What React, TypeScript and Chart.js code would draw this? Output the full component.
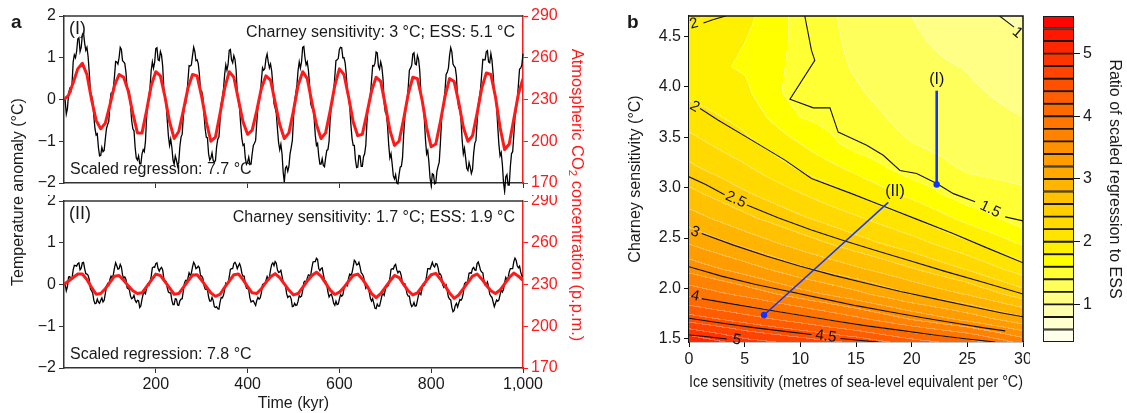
import React, { useEffect, useRef } from 'react';
import { Chart, registerables } from 'chart.js';
Chart.register(...registerables);

const FONT = "'Liberation Sans', Arial, Helvetica, sans-serif";
const RED = '#ff1a1a';
const AXIS = '#333';
const BLUE = '#1133ff';
const FS = 16;

// ---------- Panel a data ----------
const TIME_BLACK = Array.from({ length: 401 }, (_, i) => i * 2.5);
const TIME_RED = Array.from({ length: 101 }, (_, i) => i * 10);
const X_TICKS_A = [200, 400, 600, 800, 1000];
const TEMP_TICKS = [-2, -1, 0, 1, 2];
const CO2_TICKS = [170, 200, 230, 260, 290];

const TEMP_I = [
  0.02, -0.02, -0.35, -0.22, 0.15, 0.26, 0.2, 0.37, 0.9, 1.07,
  1.0, 1.15, 1.45, 1.48, 1.15, 1.25, 1.55, 1.6, 1.35, 1.18,
  1.25, 1.03, 0.65, 0.2, 0.1, -0.03, -0.4, -0.7, -0.85, -0.82,
  -1.15, -1.35, -1.34, -1.15, -1.25, -1.22, -0.95, -0.7, -0.6, -0.53,
  -0.1, 0.15, 0.15, 0.27, 0.55, 0.91, 0.9, 0.85, 1.0, 1.25,
  1.2, 0.93, 0.9, 0.86, 0.65, 0.27, 0.25, 0.17, -0.15, -0.51,
  -0.7, -0.75, -1.15, -1.4, -1.45, -1.35, -1.54, -1.54, -1.3, -1.2,
  -1.25, -1.0, -0.4, -0.06, 0.05, 0.3, 0.7, 0.9, 0.75, 0.89,
  1.22, 1.24, 0.95, 0.93, 1.15, 1.06, 0.8, 0.25, 0.05, -0.1,
  -0.5, -0.88, -1.1, -0.95, -1.15, -1.45, -1.55, -1.35, -1.45, -1.6,
  -1.5, -1.12, -0.9, -0.83, -0.4, -0.13, -0.1, 0.1, 0.45, 0.81,
  0.8, 0.83, 1.05, 1.25, 1.15, 0.93, 0.95, 0.86, 0.6, 0.22,
  0.2, 0.05, -0.35, -0.7, -0.9, -0.92, -1.3, -1.45, -1.4, -1.28,
  -1.46, -1.5, -1.46, -1.13, -0.95, -0.9, -0.5, -0.1, 0.05, 0.25,
  0.6, 0.83, 0.7, 0.84, 1.18, 1.2, 0.95, 0.88, 1.05, 0.96,
  0.7, 0.15, -0.05, -0.2, -0.6, -0.93, -1.1, -1.07, -1.4, -1.55,
  -1.5, -1.38, -1.55, -1.55, -1.3, -1.1, -1.05, -0.98, -0.55, -0.18,
  -0.05, 0.12, 0.45, 0.76, 0.7, 0.74, 0.98, 1.09, 0.9, 0.76,
  0.85, 0.68, 0.35, -0.1, -0.2, -0.33, -0.7, -1.03, -1.2, -1.07,
  -1.3, -1.74, -1.98, -1.64, -1.6, -1.72, -1.6, -1.3, -1.15, -0.98,
  -0.45, -0.03, 0.15, 0.35, 0.7, 0.9, 0.75, 0.9, 1.25, 1.27,
  1.0, 0.83, 0.9, 0.7, 0.35, -0.1, -0.2, -0.2, -0.45, -0.86,
  -1.1, -1.05, -1.35, -1.55, -1.55, -1.42, -1.58, -1.61, -1.4, -1.22,
  -1.2, -1.0, -0.45, -0.13, -0.05, 0.17, 0.55, 0.93, 0.95, 0.98,
  1.2, 1.25, 1.24, 1.0, 1.0, 0.88, 0.6, 0.15, 0.05, -0.16,
  -0.6, -0.93, -1.1, -1.1, -1.45, -1.63, -1.62, -1.34, -1.35, -1.6,
  -1.6, -1.37, -1.3, -1.1, -0.55, -0.18, -0.05, 0.12, 0.45, 0.81,
  0.8, 0.87, 1.14, 1.12, 0.8, 0.73, 0.9, 0.78, 0.5, -0.08,
  -0.3, -0.36, -0.65, -1.1, -1.4, -1.3, -1.55, -1.83, -1.9, -1.8,
  -2.0, -2.02, -1.8, -1.62, -1.6, -1.4, -0.85, -0.4, -0.2, -0.03,
  0.3, 0.7, 0.75, 0.82, 1.09, 1.12, 0.85, 0.83, 1.05, 0.96,
  0.7, 0.15, -0.05, -0.13, -0.45, -0.96, -1.3, -1.22, -1.5, -1.88,
  -2.06, -1.78, -1.8, -2.02, -2.0, -1.72, -1.6, -1.5, -1.05, -0.5,
  -0.2, -0.08, 0.2, 0.6, 0.65, 0.75, 1.05, 1.24, 1.14, 0.85,
  0.8, 0.76, 0.55, 0.0, -0.2, -0.23, -0.5, -0.98, -1.3, -1.17,
  -1.4, -1.65, -1.7, -1.51, -1.62, -1.77, -1.68, -1.29, -1.05, -0.98,
  -0.55, -0.13, 0.05, 0.25, 0.6, 0.96, 0.95, 0.95, 1.14, 1.17,
  0.9, 0.88, 1.1, 0.93, 0.6, 0.15, 0.05, -0.18, -0.65, -1.08,
  -1.35, -1.27, -1.55, -1.98, -2.2, -1.85, -1.8, -2.05, -2.05, -1.6,
  -1.3, -1.25, -0.85, -0.43, -0.25, -0.03, 0.35, 0.73, 0.75, 0.83,
  1.1,
];

const CO2_I = [
  230, 233, 242, 252, 256, 248, 230, 215, 209, 213,
  226, 240, 248, 246, 236, 220, 206, 206, 222, 240,
  250, 247, 232, 214, 202, 207, 222, 238, 248, 247,
  232, 214, 200, 203, 220, 238, 250, 246, 230, 214,
  205, 208, 222, 238, 247, 244, 228, 212, 202, 206,
  222, 240, 250, 245, 228, 212, 202, 206, 222, 240,
  252, 248, 232, 214, 204, 205, 220, 236, 246, 243,
  226, 208, 197, 200, 216, 234, 246, 245, 230, 210,
  196, 198, 214, 232, 245, 243, 228, 210, 200, 204,
  220, 238, 249, 248, 232, 210, 194, 198, 216, 234,
  245,
];

const TEMP_II = [
  0.0, 0.01, -0.15, -0.05, 0.18, 0.19, 0.12, 0.15, 0.35, 0.46,
  0.45, 0.44, 0.5, 0.52, 0.35, 0.39, 0.52, 0.53, 0.38, 0.26,
  0.25, 0.22, 0.12, -0.1, -0.15, -0.2, -0.38, -0.46, -0.45, -0.35,
  -0.42, -0.45, -0.38, -0.32, -0.42, -0.38, -0.22, -0.06, 0.02, -0.02,
  0.12, 0.2, 0.15, 0.24, 0.4, 0.52, 0.45, 0.37, 0.38, 0.48,
  0.42, 0.23, 0.15, 0.18, 0.12, -0.08, -0.1, -0.13, -0.28, -0.34,
  -0.32, -0.26, -0.38, -0.43, -0.38, -0.39, -0.55, -0.51, -0.35, -0.23,
  -0.18, -0.22, -0.08, 0.01, -0.02, 0.05, 0.2, 0.4, 0.42, 0.41,
  0.5, 0.52, 0.38, 0.32, 0.38, 0.41, 0.35, 0.14, 0.1, 0.07,
  -0.08, -0.18, -0.2, -0.2, -0.38, -0.48, -0.48, -0.34, -0.35, -0.49,
  -0.5, -0.39, -0.35, -0.34, -0.15, 0.04, 0.1, 0.09, 0.15, 0.28,
  0.22, 0.27, 0.42, 0.53, 0.48, 0.38, 0.4, 0.44, 0.4, 0.21,
  0.2, 0.15, -0.02, -0.11, -0.12, -0.12, -0.3, -0.4, -0.4, -0.31,
  -0.38, -0.53, -0.55, -0.53, -0.58, -0.59, -0.42, -0.31, -0.32, -0.26,
  -0.12, 0.03, 0.0, 0.04, 0.18, 0.36, 0.38, 0.38, 0.5, 0.53,
  0.48, 0.38, 0.45, 0.5, 0.42, 0.27, 0.2, 0.2, 0.02, -0.09,
  -0.1, -0.13, -0.32, -0.42, -0.4, -0.39, -0.45, -0.5, -0.38, -0.31,
  -0.35, -0.32, -0.2, 0.0, 0.02, 0.01, 0.1, 0.19, 0.12, 0.18,
  0.35, 0.48, 0.52, 0.45, 0.55, 0.51, 0.35, 0.29, 0.3, 0.34,
  0.2, 0.06, 0.02, -0.02, -0.22, -0.31, -0.28, -0.28, -0.35, -0.53,
  -0.52, -0.45, -0.5, -0.49, -0.4, -0.26, -0.3, -0.28, -0.15, 0.05,
  0.08, 0.06, 0.15, 0.23, 0.22, 0.22, 0.4, 0.54, 0.55, 0.55,
  0.63, 0.6, 0.38, 0.33, 0.38, 0.4, 0.25, 0.1, 0.08, -0.01,
  -0.18, -0.3, -0.25, -0.23, -0.32, -0.45, -0.5, -0.4, -0.48, -0.47,
  -0.35, -0.24, -0.28, -0.25, -0.1, -0.02, -0.02, -0.03, 0.15, 0.25,
  0.22, 0.28, 0.42, 0.58, 0.55, 0.47, 0.48, 0.53, 0.42, 0.28,
  0.25, 0.19, 0.05, -0.09, -0.05, -0.06, -0.18, -0.33, -0.4, -0.34,
  -0.45, -0.57, -0.58, -0.47, -0.52, -0.52, -0.4, -0.27, -0.22, -0.26,
  -0.12, -0.03, -0.05, 0.01, 0.15, 0.36, 0.38, 0.37, 0.45, 0.48,
  0.35, 0.28, 0.32, 0.3, 0.2, 0.02, 0.02, 0.02, -0.1, -0.23,
  -0.28, -0.28, -0.45, -0.53, -0.5, -0.43, -0.52, -0.51, -0.38, -0.25,
  -0.2, -0.24, -0.1, 0.0, -0.02, 0.05, 0.2, 0.38, 0.38, 0.37,
  0.45, 0.53, 0.45, 0.42, 0.5, 0.49, 0.4, 0.24, 0.25, 0.19,
  0.0, -0.07, -0.05, -0.01, -0.15, -0.3, -0.35, -0.37, -0.55, -0.65,
  -0.62, -0.5, -0.45, -0.54, -0.45, -0.36, -0.38, -0.33, -0.2, 0.02,
  0.05, 0.03, 0.1, 0.27, 0.28, 0.27, 0.38, 0.41, 0.35, 0.34,
  0.5, 0.54, 0.45, 0.34, 0.3, 0.28, 0.08, -0.01, 0.0, 0.06,
  -0.05, -0.23, -0.28, -0.31, -0.42, -0.53, -0.45, -0.37, -0.4, -0.37,
  -0.25, -0.13, -0.18, -0.12, 0.05, 0.17, 0.12, 0.15, 0.3, 0.38,
  0.38, 0.38, 0.55, 0.63, 0.58, 0.45, 0.4, 0.44, 0.3, 0.2,
  0.2,
];

const CO2_II = [
  230.0, 232.5, 235, 237.5, 237.5, 233.5, 228, 223, 223.5, 227,
  231.5, 236, 236.5, 233, 229, 225.5, 223.5, 224, 228.5, 233,
  237.5, 236.5, 232, 227.5, 223, 223.5, 228, 232.5, 236.8, 237,
  233, 228.5, 224, 221.5, 223, 228, 232.5, 237, 237.5, 233.5,
  228.5, 224, 223.5, 227, 231.5, 235.5, 237.8, 235, 230.5, 226,
  222.5, 223.5, 228, 232.5, 236.5, 238.8, 236, 231, 226, 222.8,
  224.5, 228, 232.5, 236.5, 237.5, 234, 229, 223.5, 220.5, 223.5,
  228, 232.5, 236.5, 235, 230, 225.5, 222.5, 224, 228.5, 233,
  237, 238, 234, 229, 224, 220, 222.5, 227, 231.5, 236,
  237.5, 234, 229.5, 225.5, 223.5, 226, 230.5, 235, 238.2, 236,
  233,
];

// ---------- Panel b data ----------
const X_TICKS_B = [0, 5, 10, 15, 20, 25, 30];
const Y_TICKS_B = [1.5, 2.0, 2.5, 3.0, 3.5, 4.0, 4.5];
const GRID_X = [0, 5, 10, 15, 20, 25, 30];
const GRID_Y = [1.45, 1.7, 1.95, 2.2, 2.45, 2.7, 2.95, 3.2, 3.45, 3.7, 3.95, 4.2, 4.45, 4.7];
const RATIO = [
  [5.27, 4.95, 4.8, 4.63, 4.37, 4.18, 3.8],
  [4.51, 4.31, 4.1, 3.86, 3.59, 3.34, 3.06],
  [3.95, 3.74, 3.49, 3.26, 2.99, 2.78, 2.49],
  [3.53, 3.3, 3.04, 2.83, 2.61, 2.38, 2.09],
  [3.19, 2.94, 2.71, 2.49, 2.29, 2.04, 1.77],
  [2.89, 2.65, 2.43, 2.23, 2.01, 1.73, 1.49],
  [2.65, 2.42, 2.2, 1.97, 1.73, 1.47, 1.42],
  [2.44, 2.23, 1.97, 1.74, 1.49, 1.38, 1.35],
  [2.27, 2.05, 1.79, 1.51, 1.4, 1.32, 1.28],
  [2.1, 1.93, 1.6, 1.47, 1.34, 1.27, 1.2],
  [1.95, 1.84, 1.48, 1.42, 1.29, 1.23, 1.14],
  [1.86, 1.78, 1.53, 1.38, 1.26, 1.19, 1.08],
  [1.89, 1.8, 1.54, 1.35, 1.23, 1.12, 1.02],
  [2.05, 1.86, 1.53, 1.33, 1.2, 1.06, 0.96],
];
const LEVELS = [0.4, 0.6, 0.8, 1.0, 1.2, 1.4, 1.6, 1.8, 2.0, 2.2, 2.4, 2.6, 2.8, 3.0, 3.2, 3.4, 3.6, 3.8, 4.0, 4.2, 4.4, 4.6, 4.8, 5.0, 5.2, 5.4, 5.6];
const BAND_COLORS = [
  '#fffeea', '#ffffd0', '#ffffad', '#ffff85', '#ffff5c', '#ffff33', '#ffff00', '#fff000', '#ffe400', '#ffd900',
  '#ffcd00', '#ffc100', '#ffb500', '#ffa800', '#ff9c00', '#ff9000', '#ff8300', '#ff7600', '#ff6a00', '#ff5d00',
  '#ff5000', '#ff4300', '#ff3500', '#ff2700', '#ff1800', '#ff0500',
];
const CB_TICKS = [1, 2, 3, 4, 5];

// contour lines (x = ice sensitivity, y = Charney sensitivity)
const C_2_TOP = [[1.3, 4.63], [2.2, 4.665], [3.3, 4.7]];
const C_1_TOP = [[27.9, 4.7], [29.2, 4.59]];
const C_2 = [[1.0, 3.784], [2.63, 3.668], [5.63, 3.47], [8.62, 3.272], [11.0, 3.09], [14.6, 2.94], [17.6, 2.81], [20.6, 2.68], [23.6, 2.55], [26.6, 2.41], [30, 2.255]];
const C_15_A = [[10.4, 4.7], [11.0, 4.36], [11.3, 4.26], [9.07, 3.876], [11.17, 3.79], [12.66, 3.79], [13.4, 3.55], [14.46, 3.497], [15.96, 3.42], [17.45, 3.32], [18.95, 3.17], [20.45, 3.14], [22.25, 3.04], [23.75, 2.94], [25.7, 2.86]];
const C_15_B = [[28.4, 2.71], [30, 2.67]];
const C_25_A = [[0, 3.107], [1.5, 3.03], [3.2, 2.93]];
const C_25_B = [[5.2, 2.827], [8, 2.7], [11, 2.58], [14, 2.47], [17, 2.37], [20, 2.27], [23, 2.17], [26.5, 2.06], [30, 1.946]];
const C_3 = [[1.14, 2.546], [4, 2.43], [7, 2.32], [10, 2.22], [13, 2.13], [16, 2.05], [19, 1.97], [22, 1.9], [25, 1.83], [28, 1.76], [30, 1.72]];
const C_35 = [[0, 2.216], [3, 2.12], [6, 2.04], [9, 1.97], [12, 1.9], [15, 1.83], [18, 1.77], [21, 1.71], [24, 1.655], [26.5, 1.61], [28.4, 1.58]];
const C_4 = [[1.14, 1.9], [4, 1.845], [7, 1.79], [10, 1.735], [13, 1.68], [16, 1.63], [19, 1.585], [22, 1.54], [25, 1.5], [27.5, 1.47]];
const C_45_A = [[0, 1.705], [3, 1.655], [6, 1.61], [9, 1.57], [11.0, 1.545]];
const C_45_B = [[13.6, 1.505], [15.2, 1.487], [17, 1.47]];
const C_5 = [[0, 1.54], [1.5, 1.525], [3.4, 1.5]];
const CONTOURS = [C_2_TOP, C_1_TOP, C_2, C_15_A, C_15_B, C_25_A, C_25_B, C_3, C_35, C_4, C_45_A, C_45_B, C_5];

const LABEL_TEXT = ['2', '1', '2', '2.5', '3', '4', '4.5', '5', '1.5'];
const LABEL_X = [0.45, 29.5, 0.5, 4.2, 0.55, 0.55, 12.3, 4.3, 27.05];
const LABEL_Y = [4.625, 4.535, 3.8, 2.88, 2.56, 1.925, 1.525, 1.49, 2.785];
const LABEL_ANGLE = [-15, 40, 30, 25, 20, 12, 8, 10, 26];

const PATH_I = [[22.25, 3.03], [22.25, 3.96]];
const PATH_II = [[6.74, 1.738], [17.9, 2.853]];
const PATH_LABELS = ['(I)', '(II)'];
const PATH_LABEL_X = [22.25, 18.5];
const PATH_LABEL_Y = [4.07, 2.965];

// ---------- helpers ----------
const minus = (v: number) => (v < 0 ? '\u2212' + Math.abs(v) : String(v));
const hexToRgb = (h: string) => {
  const n = parseInt(h.slice(1), 16);
  return [(n >> 16) & 255, (n >> 8) & 255, n & 255];
};
const clamp = (v: number, a: number, b: number) => Math.max(a, Math.min(b, v));

function sampleRatio(xv: number, yv: number) {
  let i = 0;
  while (i < GRID_X.length - 2 && xv > GRID_X[i + 1]) i++;
  let j = 0;
  while (j < GRID_Y.length - 2 && yv > GRID_Y[j + 1]) j++;
  const tx = clamp((xv - GRID_X[i]) / (GRID_X[i + 1] - GRID_X[i]), 0, 1);
  const ty = clamp((yv - GRID_Y[j]) / (GRID_Y[j + 1] - GRID_Y[j]), 0, 1);
  const a = RATIO[j][i], b = RATIO[j][i + 1], c = RATIO[j + 1][i], d = RATIO[j + 1][i + 1];
  return (a * (1 - tx) + b * tx) * (1 - ty) + (c * (1 - tx) + d * tx) * ty;
}
function bandOf(r: number) {
  for (let k = 0; k < BAND_COLORS.length; k++) if (r < LEVELS[k + 1]) return k;
  return BAND_COLORS.length - 1;
}

const fixWidth = (w: number) => (s: any) => {
  s.width = w;
  s.paddingTop = 0;
  s.paddingBottom = 0;
};
const fixHeight = (h: number) => (s: any) => {
  s.height = h;
  s.paddingLeft = 0;
  s.paddingRight = 0;
};
const setTicks = (vals: number[]) => (s: any) => {
  s.ticks = vals.map((v) => ({ value: v }));
};

const framePlugin = (color: string, right: boolean) => ({
  id: 'frame',
  afterDatasetsDraw(chart: any) {
    const { ctx, chartArea: a } = chart;
    ctx.save();
    ctx.strokeStyle = color;
    ctx.lineWidth = 1.5;
    ctx.beginPath();
    ctx.moveTo(a.left, a.top);
    ctx.lineTo(a.right, a.top);
    if (right) ctx.lineTo(a.right, a.bottom);
    ctx.stroke();
    ctx.restore();
  },
});

const textPlugin = (tag: string, top: string, bottom: string) => ({
  id: 'annot',
  afterDatasetsDraw(chart: any) {
    const { ctx, chartArea: a } = chart;
    ctx.save();
    ctx.fillStyle = '#1a1a1a';
    ctx.font = `18px ${FONT}`;
    ctx.textAlign = 'left';
    ctx.textBaseline = 'alphabetic';
    ctx.fillText(tag, a.left + 5, a.top + 18);
    ctx.font = `${FS}px ${FONT}`;
    ctx.textAlign = 'right';
    ctx.fillText(top, a.right - 8, a.top + 20.5);
    ctx.textAlign = 'left';
    ctx.fillText(bottom, a.left + 6, a.bottom - 9);
    ctx.restore();
  },
});

function panelA(temp: number[], co2: number[], isBottom: boolean, tag: string, top: string, bottom: string) {
  return {
    type: 'line',
    data: {
      datasets: [
        {
          label: 'Atmospheric CO2',
          data: TIME_RED.map((t, i) => ({ x: t, y: co2[i] })),
          yAxisID: 'y2',
          borderColor: RED,
          borderWidth: 3,
          pointRadius: 0,
          tension: 0,
          order: 0,
          borderJoinStyle: 'round',
        },
        {
          label: 'Temperature anomaly',
          data: TIME_BLACK.map((t, i) => ({ x: t, y: temp[i] })),
          yAxisID: 'y',
          borderColor: '#000',
          borderWidth: 1.3,
          pointRadius: 0,
          tension: 0,
          order: 1,
          clip: isBottom ? undefined : false,
        },
      ],
    },
    options: {
      responsive: false,
      animation: false,
      devicePixelRatio: 1,
      layout: { padding: { top: isBottom ? 6 : 16, left: 0, right: 0, bottom: 0 } },
      plugins: { legend: { display: false }, tooltip: { enabled: false } },
      scales: {
        x: {
          type: 'linear',
          min: 0,
          max: 1000,
          afterBuildTicks: setTicks(X_TICKS_A),
          afterFit: fixHeight(isBottom ? 45 : 12),
          grid: { drawOnChartArea: false, drawTicks: true, tickLength: 5, tickColor: AXIS, color: AXIS },
          border: { color: AXIS, width: 1.5 },
          ticks: {
            display: isBottom,
            autoSkip: false,
            maxRotation: 0,
            padding: 2,
            color: '#1a1a1a',
            font: { size: FS },
            callback: (v: number) => Number(v).toLocaleString('en-US'),
          },
          title: { display: isBottom, text: 'Time (kyr)', color: '#1a1a1a', font: { size: FS }, padding: { top: 0, bottom: 0 } },
        },
        y: {
          position: 'left',
          min: -2,
          max: 2,
          afterBuildTicks: setTicks(TEMP_TICKS),
          afterFit: fixWidth(64),
          grid: { drawOnChartArea: false, tickLength: 5, tickColor: AXIS, color: AXIS },
          border: { color: AXIS, width: 1.5 },
          ticks: { autoSkip: false, padding: 3, color: '#1a1a1a', font: { size: FS }, callback: (v: number) => minus(v) },
        },
        y2: {
          position: 'right',
          min: 170,
          max: 290,
          afterBuildTicks: setTicks(CO2_TICKS),
          afterFit: fixWidth(47),
          grid: { drawOnChartArea: false, tickLength: 5, tickColor: RED, color: RED },
          border: { color: RED, width: 1.5 },
          ticks: { autoSkip: false, padding: 3, color: RED, font: { size: FS } },
        },
      },
    },
    plugins: [framePlugin(AXIS, false), textPlugin(tag, top, bottom)],
  };
}

const fieldPlugin = {
  id: 'field',
  beforeDatasetsDraw(chart: any) {
    const { ctx, chartArea: a, scales } = chart;
    const xs = scales.x, ys = scales.y;
    const w = Math.round(a.right - a.left), h = Math.round(a.bottom - a.top);
    const bands = new Int16Array(w * h);
    for (let j = 0; j < h; j++) {
      const yv = ys.getValueForPixel(a.top + j + 0.5);
      for (let i = 0; i < w; i++) {
        const xv = xs.getValueForPixel(a.left + i + 0.5);
        bands[j * w + i] = bandOf(sampleRatio(xv, yv));
      }
    }
    const rgb = BAND_COLORS.map(hexToRgb);
    const off = document.createElement('canvas');
    off.width = w;
    off.height = h;
    const octx = off.getContext('2d')!;
    const img = octx.createImageData(w, h);
    for (let j = 0; j < h; j++) {
      for (let i = 0; i < w; i++) {
        const k = j * w + i;
        const b = bands[k];
        let [r, g, bl] = rgb[b];
        const seam = (i > 0 && bands[k - 1] !== b) || (j > 0 && bands[k - w] !== b);
        if (seam) {
          r = r + (255 - r) * 0.3;
          g = g + (255 - g) * 0.3;
          bl = bl + (255 - bl) * 0.3;
        }
        img.data[k * 4] = r;
        img.data[k * 4 + 1] = g;
        img.data[k * 4 + 2] = bl;
        img.data[k * 4 + 3] = 255;
      }
    }
    octx.putImageData(img, 0, 0);
    ctx.drawImage(off, a.left, a.top);
  },
};

const labelPlugin = {
  id: 'labels',
  afterDatasetsDraw(chart: any) {
    const { ctx, scales } = chart;
    ctx.save();
    ctx.fillStyle = '#111';
    ctx.textAlign = 'center';
    ctx.textBaseline = 'middle';
    ctx.font = `15px ${FONT}`;
    LABEL_TEXT.forEach((t, i) => {
      ctx.save();
      ctx.translate(scales.x.getPixelForValue(LABEL_X[i]), scales.y.getPixelForValue(LABEL_Y[i]));
      ctx.rotate((LABEL_ANGLE[i] * Math.PI) / 180);
      ctx.fillText(t, 0, 0);
      ctx.restore();
    });
    ctx.font = `${FS}px ${FONT}`;
    PATH_LABELS.forEach((t, i) => {
      ctx.fillText(t, scales.x.getPixelForValue(PATH_LABEL_X[i]), scales.y.getPixelForValue(PATH_LABEL_Y[i]));
    });
    ctx.restore();
  },
};

function panelB() {
  const contourSets = CONTOURS.map((pts, i) => ({
    label: 'contour ' + i,
    data: pts.map(([x, y]) => ({ x, y })),
    showLine: true,
    pointRadius: 0,
    borderColor: '#111',
    borderWidth: 1.1,
    tension: 0,
  }));
  const pathSets = [PATH_I, PATH_II].map((pts, i) => ({
    label: PATH_LABELS[i],
    data: pts.map(([x, y]) => ({ x, y })),
    showLine: true,
    pointRadius: [3.2, 0],
    pointBackgroundColor: BLUE,
    pointBorderWidth: 0,
    borderColor: BLUE,
    borderWidth: i === 0 ? 2.6 : 1.5,
    tension: 0,
  }));
  return {
    type: 'scatter',
    data: { datasets: [...pathSets, ...contourSets] },
    options: {
      responsive: false,
      animation: false,
      devicePixelRatio: 1,
      layout: { padding: { top: 16, right: 7, bottom: 17, left: 0 } },
      plugins: { legend: { display: false }, tooltip: { enabled: false } },
      scales: {
        x: {
          type: 'linear',
          min: 0,
          max: 30,
          afterBuildTicks: setTicks(X_TICKS_B),
          afterFit: fixHeight(54),
          grid: { drawOnChartArea: false, tickLength: 5, tickColor: '#111', color: '#111' },
          border: { color: '#111', width: 1.3 },
          ticks: { autoSkip: false, maxRotation: 0, padding: 3, color: '#1a1a1a', font: { size: FS } },
          title: {
            display: true,
            text: 'Ice sensitivity (metres of sea-level equivalent per °C)',
            color: '#1a1a1a',
            font: { size: FS },
            padding: { top: 4, bottom: 4 },
          },
        },
        y: {
          type: 'linear',
          min: 1.47,
          max: 4.7,
          afterBuildTicks: setTicks(Y_TICKS_B),
          afterFit: fixWidth(67),
          grid: { drawOnChartArea: false, tickLength: 5, tickColor: '#111', color: '#111' },
          border: { color: '#111', width: 1.3 },
          ticks: { autoSkip: false, padding: 3, color: '#1a1a1a', font: { size: FS }, callback: (v: number) => Number(v).toFixed(1) },
          title: { display: true, text: 'Charney sensitivity (°C)', color: '#1a1a1a', font: { size: FS }, padding: { top: 4, bottom: 4 } },
        },
      },
    },
    plugins: [fieldPlugin, labelPlugin, framePlugin('#111', true)],
  };
}

function colorbar() {
  return {
    type: 'bar',
    data: {
      labels: [''],
      datasets: BAND_COLORS.map((c, i) => ({
        label: `${LEVELS[i]}–${LEVELS[i + 1]}`,
        data: [[LEVELS[i], LEVELS[i + 1]]],
        backgroundColor: c,
        borderColor: '#1a1a1a',
        borderWidth: 1.3,
        borderSkipped: false,
        grouped: false,
        barPercentage: 1,
        categoryPercentage: 1,
      })),
    },
    options: {
      responsive: false,
      animation: false,
      devicePixelRatio: 1,
      layout: { padding: { top: 16, right: 0, bottom: 71, left: 13 } },
      plugins: { legend: { display: false }, tooltip: { enabled: false } },
      scales: {
        x: { display: false },
        y: {
          position: 'right',
          min: 0.4,
          max: 5.6,
          afterBuildTicks: setTicks(CB_TICKS),
          afterFit: fixWidth(53),
          grid: { drawOnChartArea: false, tickLength: 6, tickColor: '#111', color: '#111' },
          border: { display: false },
          ticks: { autoSkip: false, padding: 3, color: '#1a1a1a', font: { size: FS } },
          title: {
            display: true,
            text: 'Ratio of scaled regression to ESS',
            color: '#1a1a1a',
            font: { size: FS },
            padding: { top: 3, bottom: 3 },
          },
        },
      },
    },
  };
}

export default function App() {
  const a1 = useRef<HTMLCanvasElement>(null);
  const a2 = useRef<HTMLCanvasElement>(null);
  const b = useRef<HTMLCanvasElement>(null);
  const cb = useRef<HTMLCanvasElement>(null);

  useEffect(() => {
    Chart.defaults.font.family = FONT;
    Chart.defaults.color = '#1a1a1a';
    const charts = [
      new Chart(a1.current!, panelA(TEMP_I, CO2_I, false, '(I)', 'Charney sensitivity: 3 °C; ESS: 5.1 °C', 'Scaled regression: 7.7 °C') as any),
      new Chart(a2.current!, panelA(TEMP_II, CO2_II, true, '(II)', 'Charney sensitivity: 1.7 °C; ESS: 1.9 °C', 'Scaled regression: 7.8 °C') as any),
      new Chart(b.current!, panelB() as any),
      new Chart(cb.current!, colorbar() as any),
    ];
    return () => charts.forEach((c) => c.destroy());
  }, []);

  const abs = (left: number, top: number, width: number, height: number): React.CSSProperties => ({
    position: 'absolute',
    left,
    top,
    width,
    height,
  });

  return (
    <div style={{ position: 'absolute', left: 0, top: 0, width: 1127, height: 413, background: '#fff', overflow: 'hidden', fontFamily: FONT, color: '#1a1a1a' }}>
      <canvas ref={a1} width={570} height={195} style={abs(0, 0, 570, 195)} />
      <canvas ref={a2} width={570} height={218} style={abs(0, 195, 570, 218)} />
      <canvas ref={b} width={408} height={413} style={abs(622, 0, 408, 413)} />
      <canvas ref={cb} width={97} height={413} style={abs(1030, 0, 97, 413)} />
      <div style={{ ...abs(11, 12, 20, 19), fontSize: 19, fontWeight: 'bold', lineHeight: '19px' }}>a</div>
      <div style={{ ...abs(627, 12, 20, 19), fontSize: 19, fontWeight: 'bold', lineHeight: '19px' }}>b</div>
      <div
        style={{
          ...abs(18 - 160, 192 - 9, 320, 18),
          fontSize: FS,
          lineHeight: '18px',
          textAlign: 'center',
          whiteSpace: 'nowrap',
          transform: 'rotate(-90deg)',
          transformOrigin: 'center center',
        }}
      >
        Temperature anomaly (°C)
      </div>
      <div
        style={{
          ...abs(578 - 180, 195 - 10, 360, 20),
          fontSize: 16.5,
          lineHeight: '20px',
          textAlign: 'center',
          whiteSpace: 'nowrap',
          color: RED,
          transform: 'rotate(90deg)',
          transformOrigin: 'center center',
        }}
      >
        Atmospheric CO<sub style={{ fontSize: '0.7em', verticalAlign: '-0.25em' }}>2</sub> concentration (p.p.m.)
      </div>
    </div>
  );
}
